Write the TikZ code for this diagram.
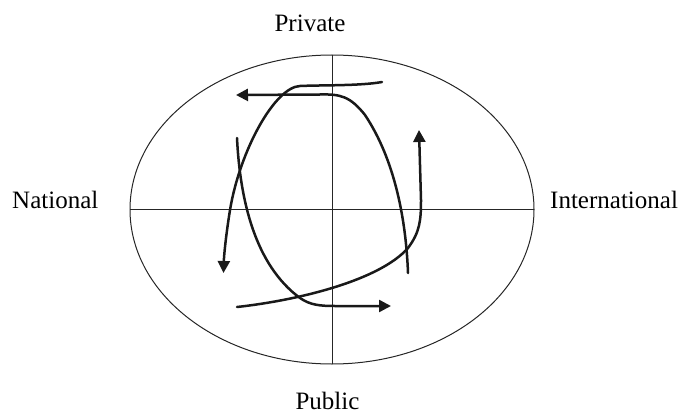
\documentclass[tikz,border=0pt]{standalone}
\usepackage{fontspec}
\setmainfont{Liberation Serif}
\usetikzlibrary{arrows.meta}
\begin{document}
\begin{tikzpicture}[x=1pt,y=-1pt,
  lbl/.style={inner sep=0pt,font=\fontsize{25}{30}\selectfont},
  thin axis/.style={line width=1pt,black!85},
  loop/.style={line width=2.5pt,black!90,line cap=round},
  tip/.style={-{Triangle[length=12pt,width=12pt]}}]
\useasboundingbox (0,0) rectangle (679,417);
\coordinate (c) at (332,209.5);
\draw[thin axis] (c) ellipse [x radius=202, y radius=154.5];
\draw[thin axis] (130,209.5) -- (534,209.5);
\draw[thin axis] (332,55) -- (332,364);
\node[lbl,anchor=base] (priv) at (310,32) {Private};
\node[lbl,anchor=base] (pub) at (327.5,409) {Public};
\node[lbl,anchor=base west] (nat) at (12,208) {National};
\node[lbl,anchor=base west] (int) at (550,208) {International};
% curve A: top right -> left side, arrow down
\draw[loop,tip] (382,82) .. controls (360,86) and (320,85) .. (300,86)
  .. controls (275,87) and (240,150) .. (230,210)
  .. controls (226,235) and (224,255) .. (223.5,273);
% curve D: right side up, then left along top, arrow left
\draw[loop,tip] (408,273) .. controls (406,220) and (395,160) .. (365,115)
  .. controls (350,96) and (340,94) .. (320,94.5) -- (236,95);
% curve B: left start, down to bottom, arrow right
\draw[loop,tip] (237,138) .. controls (240,200) and (255,265) .. (300,298)
  .. controls (310,305) and (320,306) .. (335,306) -- (391,306);
% curve C: bottom left start, sweeping up right, arrow up
\draw[loop,tip] (237,307) .. controls (300,300) and (380,280) .. (408,248)
  .. controls (420,232) and (421,220) .. (421,200) -- (419,130);
\end{tikzpicture}
\end{document}
